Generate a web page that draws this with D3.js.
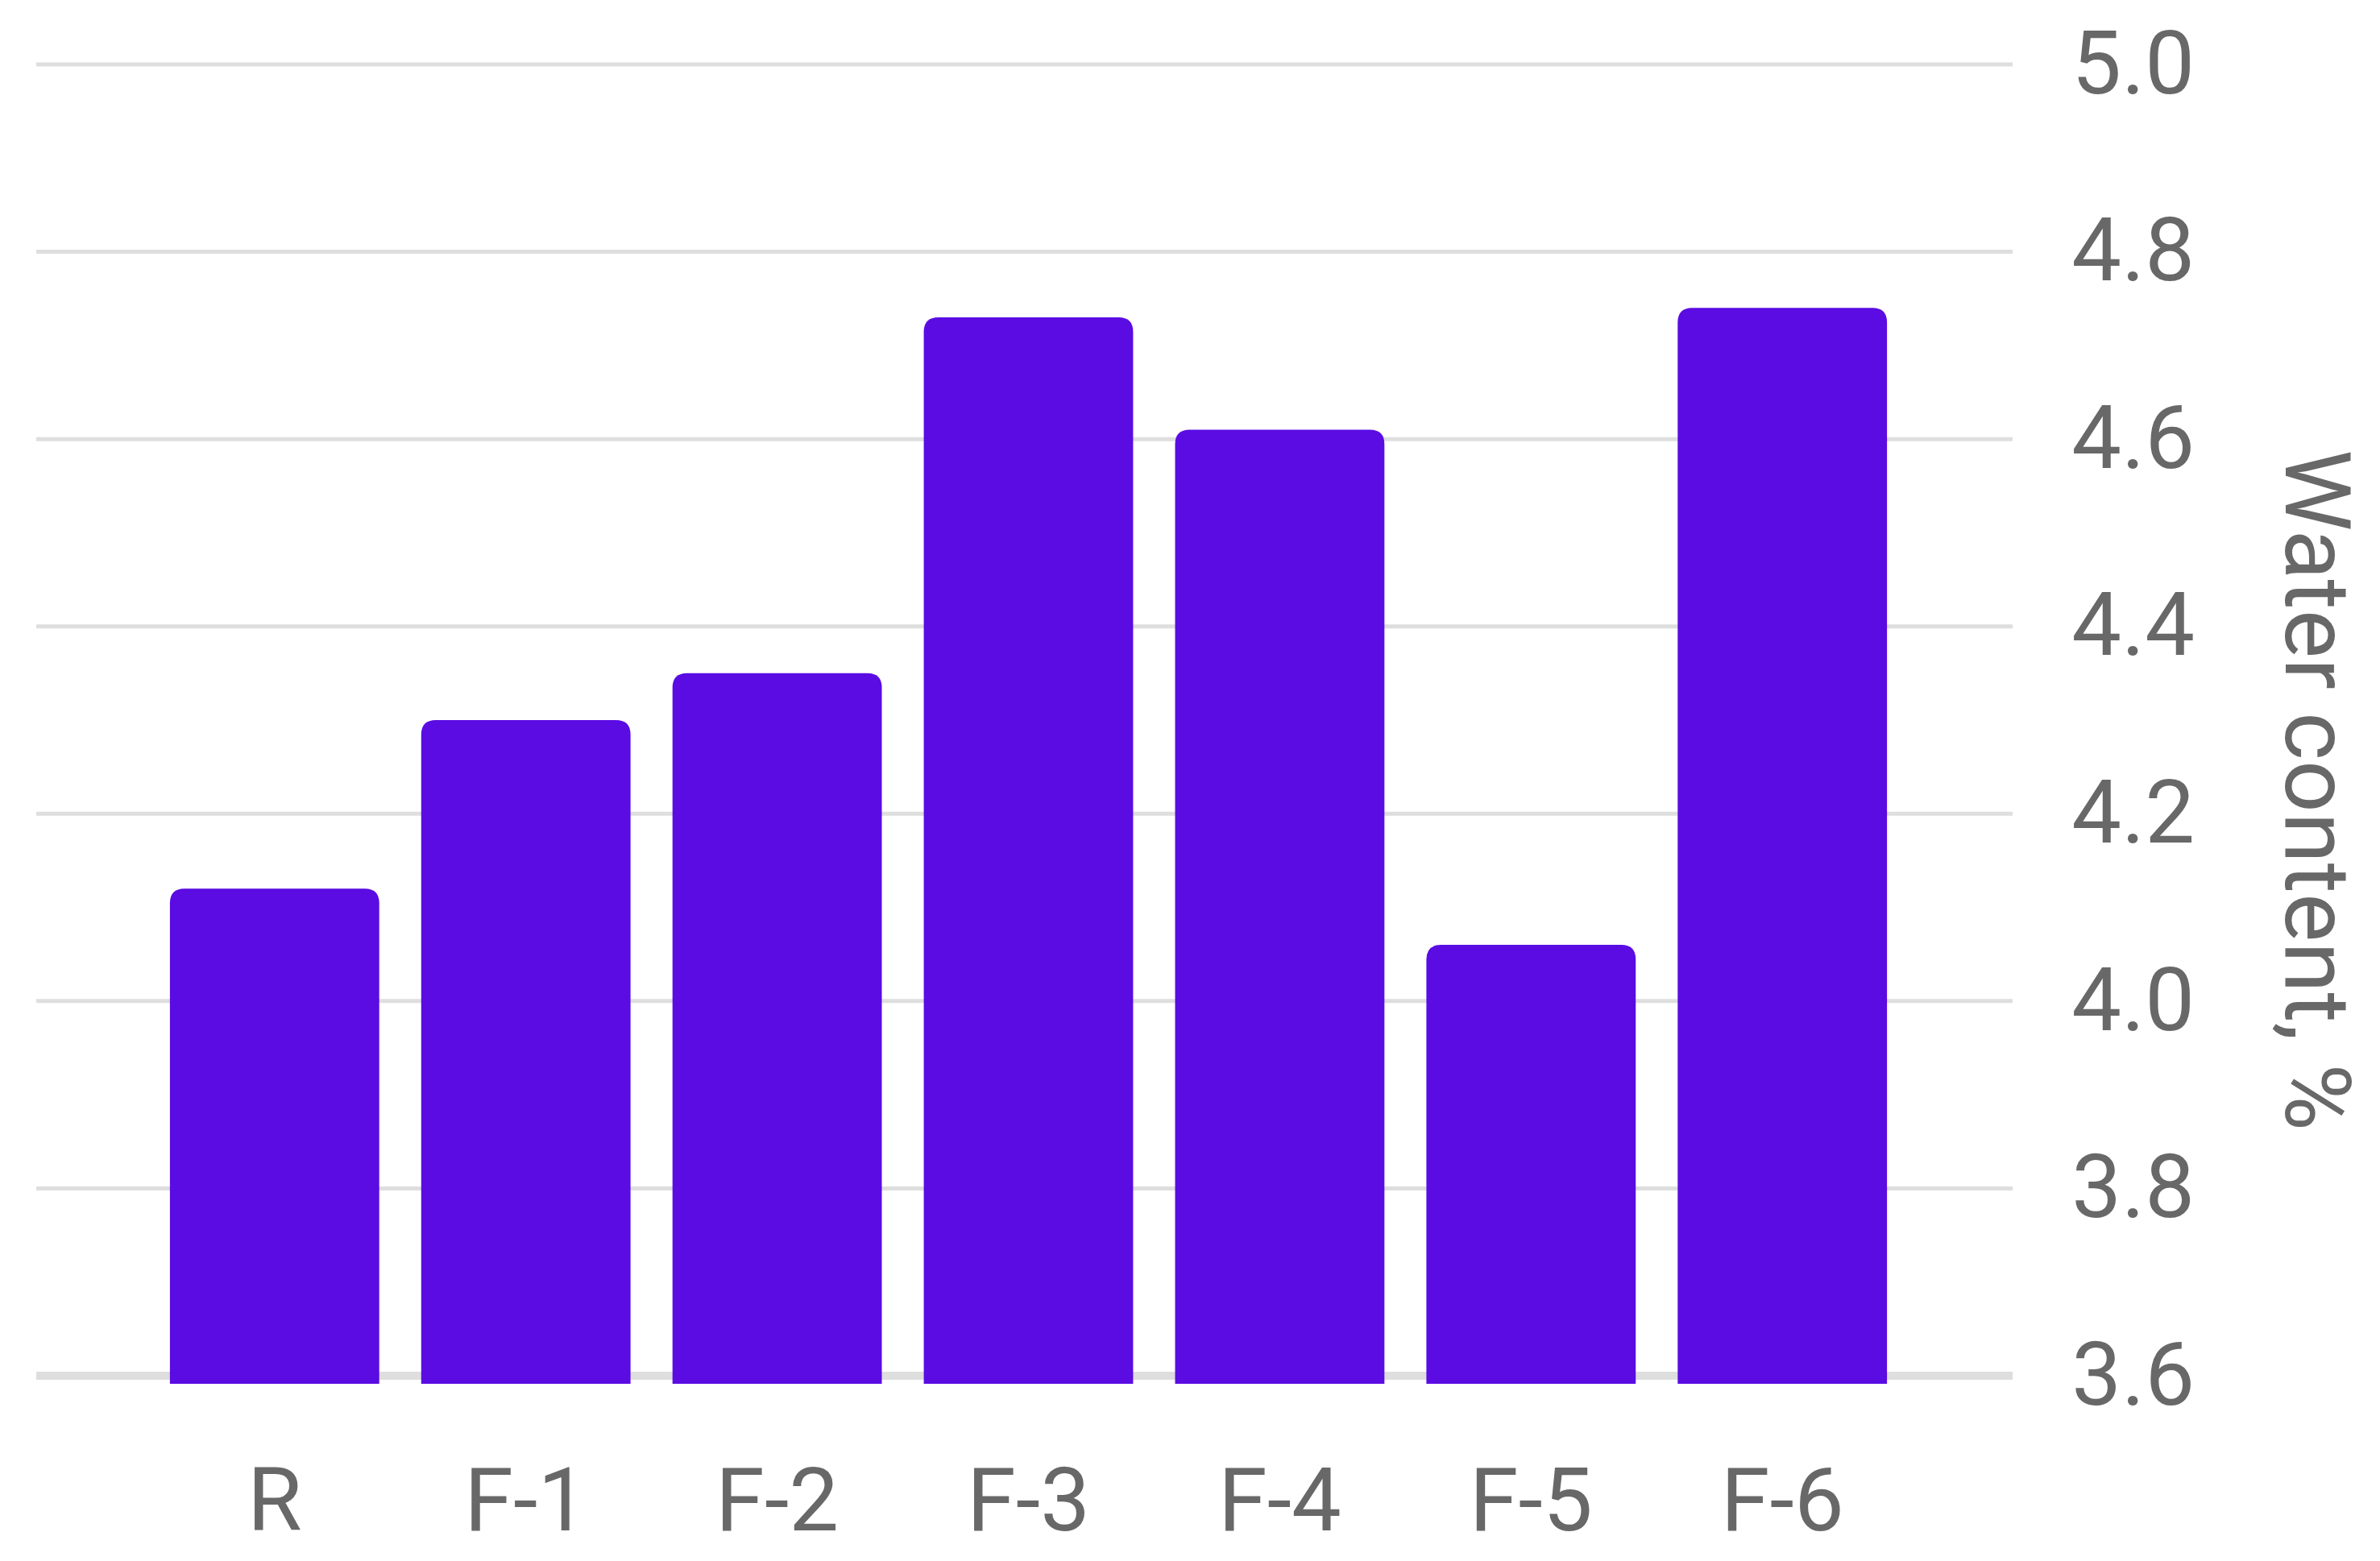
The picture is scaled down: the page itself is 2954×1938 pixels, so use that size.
<!DOCTYPE html>
<html>
<head>
<meta charset="utf-8">
<script src="https://cdn.jsdelivr.net/npm/d3@7"></script>
<style>
  html, body { margin: 0; padding: 0; background: #fff; }
  svg { display: block; }
</style>
</head>
<body>
<svg id="chart" width="2954" height="1938"></svg>
<script>
// data
const categories = ["R", "F-1", "F-2", "F-3", "F-4", "F-5", "F-6"];
const waterContent = [4.12, 4.30, 4.35, 4.73, 4.61, 4.06, 4.74];
const yTicks = [3.6, 3.8, 4.0, 4.2, 4.4, 4.6, 4.8, 5.0];
const yTitle = "Water content, %";

const width = 2954, height = 1938;
const svg = d3.select("#chart");

const x = d3.scaleBand()
    .domain(categories)
    .range([185, 2368])
    .paddingInner(0.167)
    .paddingOuter(0.083);

const y = d3.scaleLinear()
    .domain([3.6, 5.0])
    .range([1708, 80]);

// grid lines
svg.append("g")
    .selectAll("line")
    .data(yTicks)
    .join("line")
    .attr("x1", 45)
    .attr("x2", 2498)
    .attr("y1", d => y(d))
    .attr("y2", d => y(d))
    .attr("stroke", "#dedede")
    .attr("stroke-width", d => d === 3.6 ? 10 : 5);

// bars with rounded tops
function barPath(x0, w, top, bottom, r) {
    return `M${x0},${bottom}V${top + r}Q${x0},${top} ${x0 + r},${top}` +
        `H${x0 + w - r}Q${x0 + w},${top} ${x0 + w},${top + r}V${bottom}Z`;
}

svg.append("g")
    .selectAll("path")
    .data(waterContent)
    .join("path")
    .attr("fill", "#5a0ce3")
    .attr("d", (d, i) => barPath(x(categories[i]), x.bandwidth(), y(d), y(3.6) + 10, 18));

// y axis on the right, labels only
const yAxis = svg.append("g")
    .attr("transform", "translate(2724,0)")
    .call(d3.axisRight(y).tickValues(yTicks).tickFormat(d3.format(".1f")).tickSize(0).tickPadding(0));
yAxis.select(".domain").remove();
yAxis.selectAll("text")
    .attr("text-anchor", "end")
    .attr("font-family", "Roboto")
    .attr("font-size", 110)
    .attr("fill", "#686868");

// x axis labels
const xAxis = svg.append("g")
    .attr("transform", "translate(0,1822)")
    .call(d3.axisBottom(x).tickSize(0).tickPadding(0));
xAxis.select(".domain").remove();
xAxis.selectAll("text")
    .attr("font-family", "Roboto")
    .attr("font-size", 110)
    .attr("fill", "#686868");

// y axis title
svg.append("text")
    .attr("transform", "translate(2877,981) rotate(90)")
    .attr("text-anchor", "middle")
    .attr("dy", "0.35em")
    .attr("font-family", "Roboto")
    .attr("font-size", 114)
    .attr("fill", "#686868")
    .text(yTitle);
</script>
</body>
</html>
